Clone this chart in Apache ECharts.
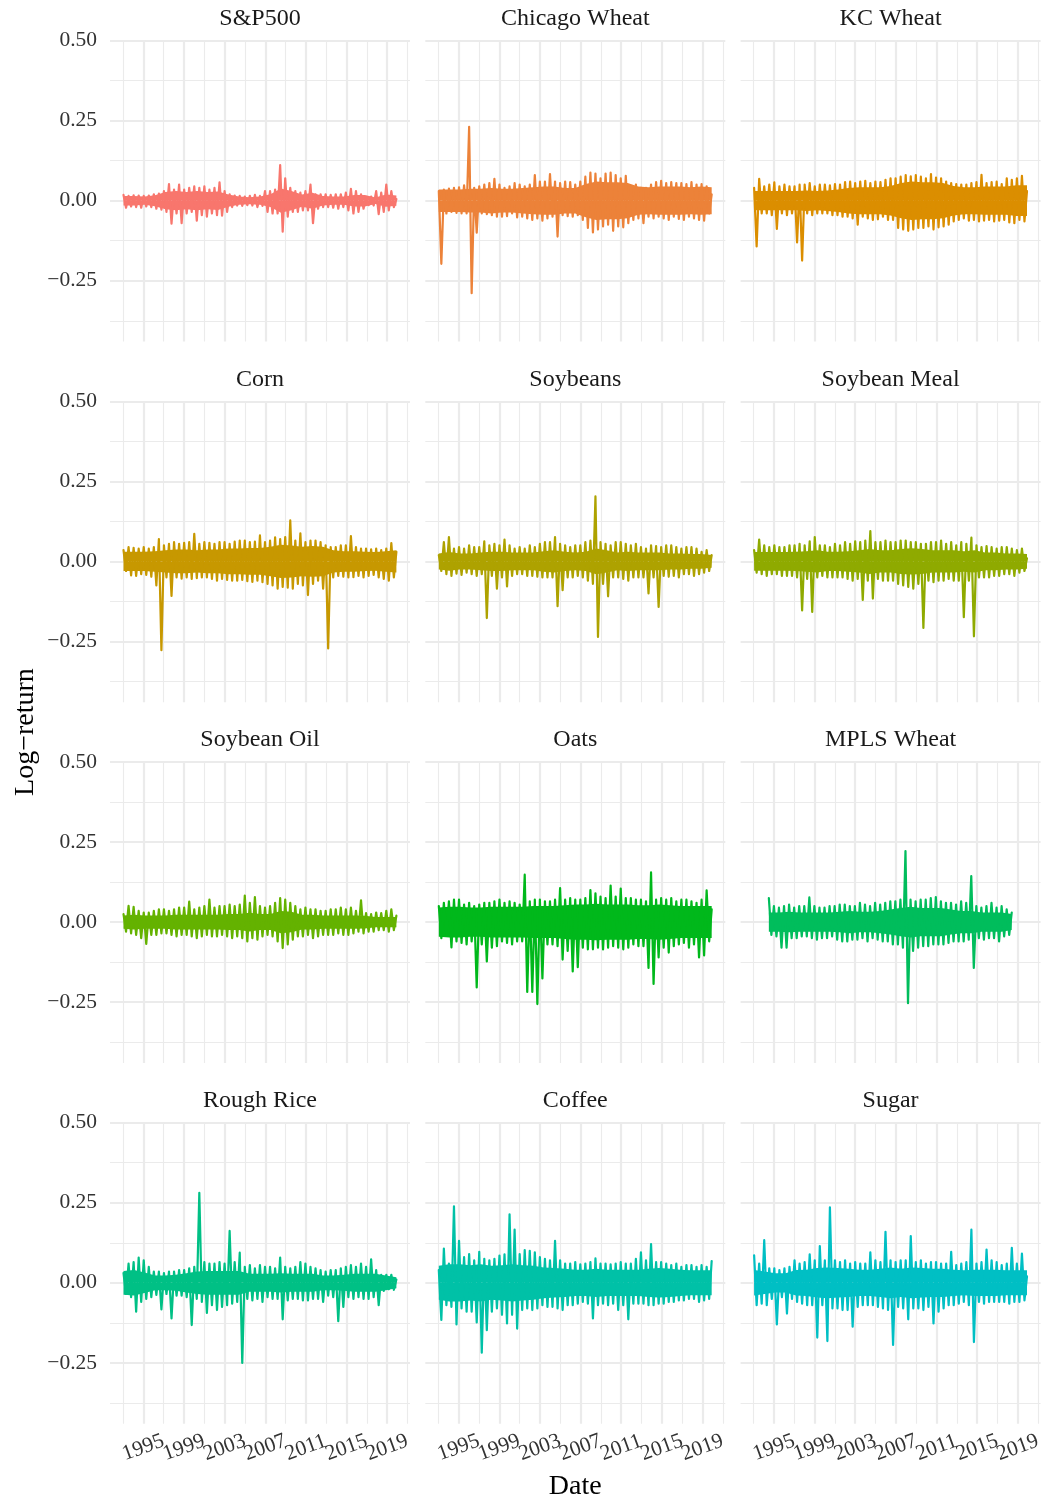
<!DOCTYPE html>
<html>
<head>
<meta charset="utf-8">
<script src="https://cdn.jsdelivr.net/npm/echarts@6/dist/echarts.min.js"></script>
<style>
  html, body { margin: 0; padding: 0; background: #ffffff; }
  #chart { width: 1048px; height: 1503px; }
</style>
</head>
<body>
<div id="chart"></div>
<script>
// Daily log-returns, summarised as alternating local highs / lows (4 per year)
const commodities = ['S&P500', 'Chicago Wheat', 'KC Wheat', 'Corn', 'Soybeans', 'Soybean Meal',
                     'Soybean Oil', 'Oats', 'MPLS Wheat', 'Rough Rice', 'Coffee', 'Sugar'];

// first and last date of each series (decimal years)
const dateSpans = [
  [1993.05, 2019.9], [1993.05, 2019.9], [1993.05, 2019.9], [1993.05, 2019.9],
  [1993.05, 2019.9], [1993.05, 2019.9], [1993.05, 2019.9], [1993.05, 2019.9],
  [1994.5, 2018.4], [1993.05, 2019.9], [1993.05, 2019.9], [1993.05, 2019.9]
];

const sp500 = [
  .018,-.022,.015,-.018, .017,-.02,.016,-.022, .015,-.018,.016,-.02, .02,-.025,.022,-.028,   // 1993-96
  .03,-.035,.052,-.072, .035,-.04,.05,-.07, .035,-.04,.04,-.035, .045,-.062,.04,-.045,      // 1997-00
  .045,-.05,.035,-.04, .04,-.045,.057,-.047, .03,-.035,.02,-.02, .016,-.015,.015,-.016,     // 2001-04
  .013,-.014,.015,-.015, .018,-.02,.015,-.016, .03,-.035,.03,-.04, .035,-.04,.111,-.097,    // 2005-08
  .07,-.05,.04,-.035, .03,-.035,.025,-.03, .03,-.03,.05,-.07, .02,-.025,.02,-.02,           // 2009-12
  .02,-.02,.018,-.022, .02,-.025,.02,-.02, .025,-.03,.037,-.04, .03,-.035,.02,-.025,        // 2013-16
  .012,-.014,.013,-.015, .03,-.042,.025,-.035, .05,-.03,.03,-.02, .005                      // 2017-19
];

const chicagoWheat = [
  .03,-.197,.035,-.04, .038,-.035,.04,-.038, .042,-.04,.048,-.04, .231,-.289,.04,-.1,
  .045,-.04,.05,-.042, .055,-.045,.068,-.05, .05,-.05,.04,-.048, .045,-.04,.055,-.052,
  .05,-.05,.045,-.055, .05,-.06,.08,-.055, .06,-.062,.06,-.055, .083,-.05,.06,-.112,
  .055,-.045,.06,-.048, .058,-.05,.05,-.045, .06,-.06,.075,-.085, .088,-.099,.085,-.09,
  .07,-.08,.085,-.075, .088,-.094,.08,-.08, .07,-.083,.078,-.07, .045,-.06,.05,-.055,
  .04,-.07,.04,-.05, .05,-.055,.058,-.05, .062,-.055,.055,-.06, .058,-.05,.055,-.057,
  .055,-.06,.052,-.05, .058,-.055,.05,-.06, .052,-.062,.045,-.04, .02
];

const kcWheat = [
  .04,-.143,.068,-.04, .045,-.04,.05,-.045, .057,-.088,.045,-.04, .05,-.045,.045,-.04,
  .045,-.13,.05,-.187, .05,-.04,.055,-.045, .045,-.04,.05,-.04, .05,-.04,.048,-.045,
  .052,-.045,.05,-.05, .058,-.05,.06,-.055, .055,-.075,.06,-.05, .062,-.055,.055,-.06,
  .06,-.058,.058,-.05, .065,-.06,.07,-.06, .07,-.085,.075,-.09, .08,-.094,.076,-.09,
  .08,-.085,.075,-.085, .07,-.08,.083,-.09, .072,-.083,.07,-.08, .06,-.075,.055,-.065,
  .052,-.06,.05,-.055, .05,-.062,.055,-.06, .058,-.065,.081,-.062, .055,-.06,.058,-.065,
  .06,-.062,.052,-.06, .07,-.068,.065,-.07, .07,-.06,.078,-.065, .03
];

const corn = [
  .035,-.03,.045,-.044, .042,-.045,.04,-.04, .045,-.042,.04,-.048, .045,-.075,.07,-.277,
  .05,-.05,.055,-.108, .06,-.05,.055,-.054, .058,-.05,.06,-.055, .086,-.052,.055,-.05,
  .06,-.05,.058,-.055, .055,-.06,.06,-.055, .06,-.058,.055,-.06, .062,-.06,.065,-.058,
  .065,-.062,.06,-.064, .062,-.06,.081,-.065, .06,-.07,.065,-.075, .075,-.085,.07,-.08,
  .076,-.082,.128,-.085, .065,-.07,.088,-.075, .06,-.105,.065,-.07, .065,-.06,.06,-.085,
  .05,-.272,.045,-.05, .045,-.045,.05,-.048, .05,-.05,.079,-.049, .045,-.045,.04,-.05,
  .04,-.045,.038,-.042, .04,-.05,.035,-.055, .04,-.06,.057,-.05, .03
];

const soybeans = [
  .02,-.03,.06,-.04, .076,-.045,.04,-.038, .045,-.042,.04,-.035, .05,-.04,.045,-.045,
  .045,-.04,.063,-.177, .05,-.045,.055,-.085, .05,-.05,.068,-.078, .05,-.045,.04,-.04,
  .045,-.04,.04,-.045, .05,-.045,.045,-.048, .055,-.05,.06,-.05, .06,-.05,.076,-.14,
  .055,-.09,.05,-.05, .045,-.05,.05,-.045, .05,-.05,.06,-.06, .065,-.07,.203,-.236,
  .06,-.07,.055,-.109, .05,-.05,.06,-.05, .06,-.055,.055,-.06, .05,-.05,.055,-.05,
  .045,-.05,.04,-.1, .05,-.05,.048,-.142, .045,-.045,.05,-.048, .05,-.045,.045,-.05,
  .04,-.04,.045,-.04, .045,-.045,.04,-.04, .03,-.035,.035,-.03, .02
];

const soybeanMeal = [
  .035,-.035,.068,-.04, .05,-.045,.045,-.04, .05,-.04,.045,-.045, .045,-.045,.05,-.045,
  .05,-.05,.055,-.153, .05,-.055,.063,-.158, .076,-.05,.05,-.045, .05,-.05,.045,-.05,
  .055,-.05,.05,-.05, .06,-.055,.055,-.06, .063,-.055,.06,-.12, .065,-.06,.095,-.116,
  .06,-.055,.06,-.06, .065,-.06,.06,-.06, .06,-.07,.065,-.075, .065,-.08,.06,-.085,
  .06,-.07,.055,-.208, .055,-.06,.06,-.065, .06,-.06,.065,-.06, .055,-.055,.06,-.06,
  .05,-.06,.06,-.174, .055,-.06,.074,-.234, .05,-.05,.045,-.05, .048,-.05,.045,-.045,
  .04,-.045,.045,-.04, .045,-.04,.04,-.045, .035,-.035,.04,-.03, .01
];

const soybeanOil = [
  .025,-.03,.051,-.035, .048,-.04,.035,-.05, .03,-.068,.03,-.04, .035,-.04,.04,-.035,
  .04,-.035,.035,-.04, .04,-.045,.045,-.04, .045,-.04,.064,-.045, .04,-.05,.045,-.045,
  .05,-.04,.07,-.045, .045,-.045,.05,-.04, .05,-.045,.055,-.05, .05,-.045,.055,-.05,
  .083,-.06,.06,-.05, .078,-.055,.05,-.045, .045,-.04,.05,-.045, .06,-.06,.075,-.081,
  .07,-.07,.06,-.055, .05,-.045,.04,-.045, .045,-.04,.04,-.05, .04,-.045,.035,-.04,
  .035,-.04,.04,-.04, .04,-.035,.045,-.04, .04,-.04,.045,-.035, .035,-.03,.068,-.035,
  .028,-.03,.025,-.03, .03,-.025,.028,-.025, .035,-.03,.04,-.025, .02
];

const oats = [
  .05,-.05,.06,-.04, .065,-.079,.07,-.06, .07,-.065,.055,-.07, .06,-.06,.05,-.204,
  .055,-.07,.06,-.123, .06,-.08,.065,-.075, .07,-.06,.06,-.065, .065,-.07,.06,-.06,
  .055,-.06,.148,-.218, .065,-.218,.07,-.256, .07,-.176,.065,-.07, .065,-.07,.07,-.075,
  .106,-.117,.07,-.09, .075,-.154,.07,-.141, .07,-.08,.075,-.085, .1,-.085,.09,-.08,
  .08,-.085,.075,-.08, .114,-.075,.08,-.08, .105,-.085,.075,-.08, .075,-.07,.07,-.075,
  .07,-.075,.065,-.143, .155,-.193,.07,-.11, .075,-.08,.07,-.095, .075,-.075,.065,-.07,
  .07,-.065,.07,-.08, .065,-.07,.06,-.11, .07,-.104,.099,-.06, .04
];

const mplsWheat = [
  .075,-.04,                                                                    // mid-1994
  .05,-.045,.045,-.08, .05,-.08,.055,-.05, .045,-.05,.05,-.045, .05,-.045,.077,-.05,
  .05,-.055,.045,-.05, .045,-.05,.05,-.045, .05,-.055,.055,-.06, .055,-.06,.05,-.055,
  .05,-.055,.06,-.05, .055,-.06,.05,-.05, .06,-.055,.055,-.06, .06,-.06,.065,-.07,
  .065,-.07,.07,-.08, .222,-.253,.07,-.09, .065,-.08,.07,-.075, .07,-.075,.075,-.07,
  .078,-.07,.065,-.07, .06,-.065,.06,-.06, .055,-.06,.065,-.06, .06,-.055,.144,-.143,
  .05,-.05,.045,-.055, .05,-.05,.06,-.05, .045,-.06,.05,-.045, .04,-.04,.03
];

const roughRice = [
  .03,-.035,.06,-.045, .065,-.09,.079,-.06, .07,-.05,.05,-.045, .035,-.038,.035,-.083,
  .03,-.035,.035,-.111, .035,-.04,.04,-.04, .04,-.045,.045,-.132, .05,-.05,.281,-.06,
  .065,-.094,.06,-.07, .06,-.085,.065,-.075, .06,-.07,.162,-.065, .065,-.06,.094,-.25,
  .05,-.05,.055,-.055, .045,-.05,.055,-.06, .05,-.045,.05,-.05, .045,-.05,.079,-.114,
  .05,-.055,.045,-.05, .05,-.05,.065,-.055, .06,-.055,.05,-.05, .045,-.05,.04,-.06,
  .035,-.04,.04,-.045, .04,-.12,.045,-.075, .05,-.045,.055,-.05, .05,-.045,.06,-.05,
  .05,-.05,.073,-.045, .04,-.07,.025,-.025, .025,-.02,.025,-.022, .01
];

const coffee = [
  .04,-.116,.107,-.07, .06,-.075,.239,-.13, .131,-.08,.08,-.09, .09,-.09,.07,-.124,
  .097,-.218,.075,-.148, .07,-.09,.075,-.08, .085,-.1,.089,-.127, .214,-.1,.166,-.143,
  .09,-.085,.102,-.08, .1,-.085,.095,-.08, .08,-.07,.075,-.075, .07,-.075,.131,-.08,
  .07,-.085,.06,-.07, .06,-.07,.065,-.065, .058,-.06,.06,-.065, .065,-.111,.076,-.07,
  .06,-.065,.06,-.07, .058,-.065,.06,-.085, .065,-.07,.06,-.114, .06,-.065,.075,-.065,
  .095,-.065,.07,-.07, .121,-.07,.065,-.065, .065,-.065,.06,-.06, .055,-.06,.06,-.055,
  .05,-.055,.055,-.05, .055,-.05,.05,-.06, .055,-.055,.05,-.05, .068
];

const sugar = [
  .086,-.07,.06,-.065, .133,-.07,.045,-.05, .045,-.13,.04,-.045, .045,-.096,.05,-.05,
  .07,-.06,.06,-.065, .065,-.07,.089,-.07, .07,-.171,.115,-.07, .07,-.182,.236,-.08,
  .07,-.08,.065,-.085, .07,-.085,.06,-.137, .065,-.075,.06,-.07, .06,-.07,.095,-.07,
  .07,-.075,.065,-.08, .159,-.085,.07,-.194, .065,-.075,.07,-.08, .07,-.114,.146,-.08,
  .065,-.08,.07,-.085, .06,-.075,.065,-.127, .065,-.09,.06,-.08, .06,-.07,.097,-.07,
  .055,-.065,.06,-.06, .065,-.07,.166,-.185, .06,-.06,.065,-.065, .104,-.06,.07,-.06,
  .065,-.06,.055,-.06, .06,-.065,.109,-.06, .06,-.06,.091,-.055, .02
];

// typical daily range (half-width of the dense band), one value per year
const sp500Band        = [.015,.015,.013,.017,.027,.03,.027,.03,.027,.029,.019,.013,.011,.013,.02,.038,.03,.019,.025,.015,.013,.013,.018,.018,.01,.019,.016];
const chicagoWheatBand = [.035,.035,.035,.037,.037,.04,.037,.037,.04,.042,.044,.044,.04,.04,.052,.06,.058,.058,.055,.044,.042,.044,.044,.044,.042,.044,.042];
const kcWheatBand      = [.03,.03,.03,.03,.03,.032,.03,.032,.035,.04,.042,.042,.042,.046,.055,.06,.058,.058,.055,.046,.042,.042,.044,.044,.044,.048,.048];
const cornBand         = [.03,.03,.03,.032,.035,.037,.037,.035,.037,.037,.04,.04,.042,.042,.046,.052,.05,.046,.048,.046,.035,.032,.032,.03,.029,.032,.035];
const soybeansBand     = [.025,.029,.025,.025,.028,.03,.03,.028,.028,.028,.032,.035,.03,.028,.03,.04,.035,.028,.03,.028,.028,.028,.025,.025,.023,.023,.02];
const soybeanMealBand  = [.029,.029,.029,.029,.03,.032,.035,.03,.03,.032,.035,.039,.035,.035,.039,.041,.039,.035,.035,.035,.032,.035,.028,.028,.025,.025,.023];
const soybeanOilBand   = [.021,.023,.021,.021,.021,.023,.023,.023,.023,.023,.025,.025,.029,.025,.025,.035,.032,.023,.023,.021,.021,.021,.021,.02,.016,.016,.016];
const oatsBand         = [.046,.048,.048,.046,.046,.048,.048,.048,.048,.05,.05,.05,.053,.055,.055,.057,.055,.055,.055,.053,.053,.055,.053,.05,.05,.05,.05];
const mplsWheatBand    = [.03,.03,.032,.03,.03,.03,.03,.032,.035,.032,.032,.035,.039,.044,.048,.044,.044,.044,.039,.035,.035,.03,.03,.03,.025];
const roughRiceBand    = [.037,.04,.032,.023,.023,.025,.03,.035,.037,.037,.037,.037,.028,.028,.028,.03,.028,.028,.028,.023,.023,.025,.028,.028,.028,.023,.017];
const coffeeBand       = [.053,.058,.058,.055,.058,.053,.055,.058,.055,.053,.048,.046,.044,.041,.041,.044,.041,.041,.041,.041,.044,.046,.044,.041,.039,.039,.039];
const sugarBand        = [.04,.035,.03,.03,.04,.041,.046,.048,.046,.044,.041,.041,.044,.048,.044,.048,.046,.044,.044,.041,.039,.041,.041,.041,.039,.039,.039];

const seriesValues = [sp500, chicagoWheat, kcWheat, corn, soybeans, soybeanMeal,
                      soybeanOil, oats, mplsWheat, roughRice, coffee, sugar];
const bandValues = [sp500Band, chicagoWheatBand, kcWheatBand, cornBand, soybeansBand, soybeanMealBand,
                    soybeanOilBand, oatsBand, mplsWheatBand, roughRiceBand, coffeeBand, sugarBand];

// axis breaks; year labels are split over two axes so neighbouring labels may touch
const xMajorTicks = [1995, 1999, 2003, 2007, 2011, 2015, 2019];
const xMinorTicks = [1993, 1997, 2001, 2005, 2009, 2013, 2017, 2021];
const xLabelsA = [1995, 2003, 2011, 2019];
const xLabelsB = [1999, 2007, 2015];
const yMajorTicks = [-0.25, 0, 0.25, 0.5];
const yMinorTicks = [-0.375, -0.125, 0.125, 0.375];

// ---- layout ----
const FONT = '"Liberation Serif", "Times New Roman", serif';
const colLeft = [110, 425.3, 740.6];
const rowTop = [40.6, 401.3, 762, 1122.7];
const panelW = 300, panelH = 301;
const X_MIN = 1991.72, X_MAX = 2021.24;
const Y_MIN = -0.44, Y_MAX = 0.5;
const GRID_COLOR = '#EBEBEB';
const TICK_COLOR = '#333333';

// polar LUV (hcl) -> hex, as used by the default discrete hue palette
function hcl(h, c, l) {
  const hr = h * Math.PI / 180;
  const U = c * Math.cos(hr), V = c * Math.sin(hr);
  const Xn = 95.047, Yn = 100, Zn = 108.883;
  const Y = l > 7.999592 ? Yn * Math.pow((l + 16) / 116, 3) : Yn * l / 903.3;
  const d = Xn + 15 * Yn + 3 * Zn;
  const un = 4 * Xn / d, vn = 9 * Yn / d;
  const u = U / (13 * l) + un, v = V / (13 * l) + vn;
  const X = 9 * Y * u / (4 * v);
  const Z = -X / 3 - 5 * Y + 3 * Y / v;
  const x = X / 100, y = Y / 100, z = Z / 100;
  const lin = [
    3.240479 * x - 1.537150 * y - 0.498535 * z,
    -0.969256 * x + 1.875992 * y + 0.041556 * z,
    0.055648 * x - 0.204043 * y + 1.057311 * z
  ];
  return '#' + lin.map(t => {
    let s = t <= 0.0031308 ? 12.92 * t : 1.055 * Math.pow(t, 1 / 2.4) - 0.055;
    s = Math.max(0, Math.min(1, s));
    return Math.round(s * 255).toString(16).padStart(2, '0');
  }).join('');
}
const paletteSize = 22;
const colors = commodities.map((_, i) => hcl(15 + 360 * i / paletteSize, 100, 65));

function spread(vals, t0, t1) {
  const step = (t1 - t0) / (vals.length - 1);
  return vals.map((v, i) => [t0 + i * step, v]);
}

const grids = [], xAxes = [], yAxes = [], series = [], graphics = [];

function yearLabel(show, values) {
  return {
    show: show, customValues: values,
    showMinLabel: true, showMaxLabel: true, hideOverlap: false,
    formatter: v => String(Math.round(v)),
    rotate: 20, align: 'center', verticalAlign: 'middle', margin: 24,
    fontFamily: FONT, fontSize: 21.5, color: TICK_COLOR
  };
}

commodities.forEach((name, k) => {
  const row = Math.floor(k / 3), col = k % 3;
  grids.push({ left: colLeft[col], top: rowTop[row], width: panelW, height: panelH });

  const xBase = {
    type: 'value', gridIndex: k, min: X_MIN, max: X_MAX, position: 'bottom', offset: 0,
    axisLine: { show: false }
  };
  xAxes.push(Object.assign({}, xBase, {
    axisTick: { show: false, customValues: xMajorTicks },
    axisLabel: yearLabel(row === 3, xLabelsA),
    splitLine: { show: true, lineStyle: { color: GRID_COLOR, width: 2.2 } }
  }));
  xAxes.push(Object.assign({}, xBase, {
    axisTick: { show: false, customValues: xMinorTicks },
    axisLabel: yearLabel(row === 3, xLabelsB),
    splitLine: { show: true, lineStyle: { color: GRID_COLOR, width: 1.1 } }
  }));

  const yBase = {
    type: 'value', gridIndex: k, min: Y_MIN, max: Y_MAX, position: 'left', offset: 0,
    axisLine: { show: false }
  };
  yAxes.push(Object.assign({}, yBase, {
    axisTick: { show: false, customValues: yMajorTicks },
    axisLabel: {
      show: col === 0, customValues: yMajorTicks,
      showMinLabel: true, showMaxLabel: true, hideOverlap: false,
      formatter: v => v.toFixed(2).replace('-', '\u2212'),
      margin: 13, fontFamily: FONT, fontSize: 21.5, color: TICK_COLOR
    },
    splitLine: { show: true, lineStyle: { color: GRID_COLOR, width: 2.2 } }
  }));
  yAxes.push(Object.assign({}, yBase, {
    axisTick: { show: false, customValues: yMinorTicks },
    axisLabel: { show: false },
    splitLine: { show: true, lineStyle: { color: GRID_COLOR, width: 1.1 } }
  }));

  const [t0, t1] = dateSpans[k];
  const band = bandValues[k];

  // dense band of everyday moves, filled above and below zero
  [1, -1].forEach(sign => {
    series.push({
      type: 'line', xAxisIndex: 2 * k, yAxisIndex: 2 * k,
      data: spread(band.map(v => sign * v), t0, t1),
      showSymbol: false, symbol: 'none', silent: true,
      lineStyle: { width: 0 },
      areaStyle: { color: colors[k], opacity: 1, origin: 'auto' },
      z: 4
    });
  });

  // highs and lows of the daily returns
  series.push({
    name: name, type: 'line',
    xAxisIndex: 2 * k, yAxisIndex: 2 * k,
    data: spread(seriesValues[k], t0, t1),
    showSymbol: false, symbol: 'none', silent: true,
    lineStyle: { color: colors[k], width: 2.2, join: 'round', cap: 'round' },
    z: 5
  });

  // facet strip title
  graphics.push({
    type: 'text', x: colLeft[col] + panelW / 2, y: rowTop[row] - 22,
    style: { text: name, align: 'center', verticalAlign: 'middle',
             font: '24px ' + FONT, fill: '#1A1A1A' }
  });
});

graphics.push({
  type: 'text', x: 575.3, y: 1487,
  style: { text: 'Date', align: 'center', verticalAlign: 'middle', font: '28px ' + FONT, fill: '#000000' }
});
graphics.push({
  type: 'text', x: 26, y: 732, rotation: Math.PI / 2,
  style: { text: 'Log\u2212return', align: 'center', verticalAlign: 'middle', font: '28px ' + FONT, fill: '#000000' }
});

const chart = echarts.init(document.getElementById('chart'), null, { renderer: 'canvas' });
chart.setOption({
  backgroundColor: '#ffffff',
  animation: false,
  grid: grids,
  xAxis: xAxes,
  yAxis: yAxes,
  series: series,
  graphic: graphics
});
</script>
</body>
</html>
